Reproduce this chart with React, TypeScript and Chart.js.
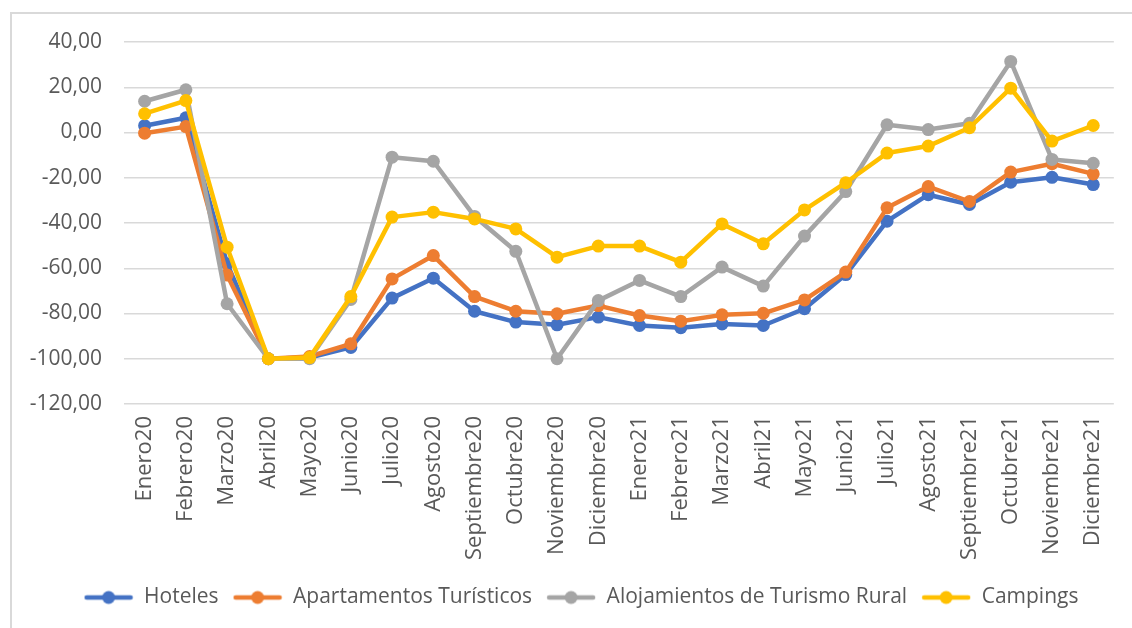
import React, { useEffect, useRef } from "react";
import Chart from "chart.js/auto";

const categories = [
  "Enero20", "Febrero20", "Marzo20", "Abril20", "Mayo20", "Junio20", "Julio20", "Agosto20",
  "Septiembre20", "Octubre20", "Noviembre20", "Diciembre20", "Enero21", "Febrero21", "Marzo21",
  "Abril21", "Mayo21", "Junio21", "Julio21", "Agosto21", "Septiembre21", "Octubre21",
  "Noviembre21", "Diciembre21",
];

const hoteles = [
  3.0, 6.5, -58.0, -100.0, -99.5, -95.0, -73.2, -64.4, -79.0, -83.8, -85.0, -81.6,
  -85.3, -86.3, -84.6, -85.3, -77.9, -62.8, -39.2, -27.5, -31.8, -22.0, -19.8, -23.0,
];
const apartamentos = [
  -0.3, 2.6, -63.0, -100.0, -99.0, -93.4, -64.7, -54.4, -72.5, -79.0, -80.1, -76.5,
  -80.9, -83.4, -80.6, -79.9, -74.0, -61.7, -33.3, -23.9, -30.5, -17.5, -13.8, -18.3,
];
const rural = [
  13.8, 18.9, -75.7, -100.0, -100.0, -73.8, -10.9, -12.7, -37.1, -52.5, -100.0, -74.3,
  -65.4, -72.5, -59.5, -67.9, -45.8, -26.1, 3.4, 1.3, 4.1, 31.4, -11.9, -13.6,
];
const campings = [
  8.3, 14.1, -50.7, -100.0, -99.5, -72.5, -37.4, -35.2, -38.2, -42.6, -55.1, -50.2,
  -50.2, -57.3, -40.4, -49.2, -34.2, -22.2, -9.1, -6.0, 2.1, 19.6, -3.8, 3.1,
];

const seriesNames = ["Hoteles", "Apartamentos Turísticos", "Alojamientos de Turismo Rural", "Campings"];
const seriesColors = ["#4472C4", "#ED7D31", "#A5A5A5", "#FFC000"];

const yMin = -120;
const yMax = 40;
const yStep = 20;

const FONT = "'Open Sans', 'Noto Sans', sans-serif";
const TEXT_COLOR = "#595959";

function makeIcon(color: string): HTMLCanvasElement {
  const c = document.createElement("canvas");
  c.width = 50;
  c.height = 16;
  const ctx = c.getContext("2d")!;
  ctx.strokeStyle = color;
  ctx.lineWidth = 4.5;
  ctx.lineCap = "round";
  ctx.beginPath();
  ctx.moveTo(3, 8);
  ctx.lineTo(47, 8);
  ctx.stroke();
  ctx.fillStyle = color;
  ctx.beginPath();
  ctx.arc(25, 8, 6.5, 0, Math.PI * 2);
  ctx.fill();
  return c;
}

const legendShift = {
  id: "legendShift",
  afterLayout(chart: any) {
    const lg = chart.legend;
    if (!lg) return;
    const dx = 19;
    lg.left += dx;
    lg.right += dx;
    if (lg.legendHitBoxes) lg.legendHitBoxes.forEach((b: any) => (b.left += dx));
  },
};

export default function App() {
  const canvasRef = useRef<HTMLCanvasElement | null>(null);

  useEffect(() => {
    if (!canvasRef.current) return;
    const icons = seriesColors.map((c) => makeIcon(c));
    const values = [hoteles, apartamentos, rural, campings];
    const datasets = values.map((v, i) => ({
      label: seriesNames[i],
      data: v,
      borderColor: seriesColors[i],
      backgroundColor: seriesColors[i],
      borderWidth: 4.5,
      pointRadius: 6.5,
      pointHoverRadius: 6.5,
      pointBorderWidth: 0,
      pointBackgroundColor: seriesColors[i],
      borderJoinStyle: "round" as const,
      tension: 0,
      order: 4 - i,
    }));

    const chart = new Chart(canvasRef.current, {
      type: "line",
      data: { labels: categories, datasets },
      plugins: [legendShift],
      options: {
        animation: false,
        responsive: false,
        maintainAspectRatio: false,
        layout: { padding: { left: 10, right: 18, top: 42, bottom: 10 } },
        scales: {
          x: {
            offset: true,
            grid: { display: false, drawTicks: false },
            border: { display: false },
            ticks: {
              autoSkip: false,
              minRotation: 90,
              maxRotation: 90,
              padding: 12,
              color: TEXT_COLOR,
              font: { family: FONT, size: 22 },
            },
            afterFit: (scale: any) => {
              scale.height = 169;
            },
          },
          y: {
            min: yMin,
            max: yMax,
            grid: { color: "#D9D9D9", lineWidth: 1.5, drawTicks: false },
            border: { display: false },
            ticks: {
              stepSize: yStep,
              padding: 22,
              color: TEXT_COLOR,
              font: { family: FONT, size: 21 },
              callback: (v: any) => Number(v).toFixed(2).replace(".", ","),
            },
            afterFit: (scale: any) => {
              scale.width = 114;
            },
          },
        },
        plugins: {
          tooltip: { enabled: false },
          legend: {
            position: "bottom",
            labels: {
              usePointStyle: true,
              pointStyleWidth: 50,
              padding: 14,
              color: TEXT_COLOR,
              font: { family: FONT, size: 21 },
              sort: (a: any, b: any) => a.datasetIndex - b.datasetIndex,
              generateLabels: (ch: any) => {
                const items = Chart.defaults.plugins.legend.labels.generateLabels(ch);
                return items.map((it: any) => ({ ...it, pointStyle: icons[it.datasetIndex] }));
              },
            },
          },
        },
      },
    });
    return () => chart.destroy();
  }, []);

  return (
    <div style={{ position: "fixed", left: 0, top: 0, width: 1132, height: 628, overflow: "hidden", background: "#fff" }}>
      <div
        style={{
          position: "absolute",
          left: 10,
          top: 12,
          width: 1200,
          height: 700,
          border: "2px solid #D9D9D9",
          boxSizing: "border-box",
        }}
      />
      <canvas ref={canvasRef} width={1132} height={628} style={{ position: "absolute", left: 0, top: 0, width: 1132, height: 628 }} />
    </div>
  );
}
